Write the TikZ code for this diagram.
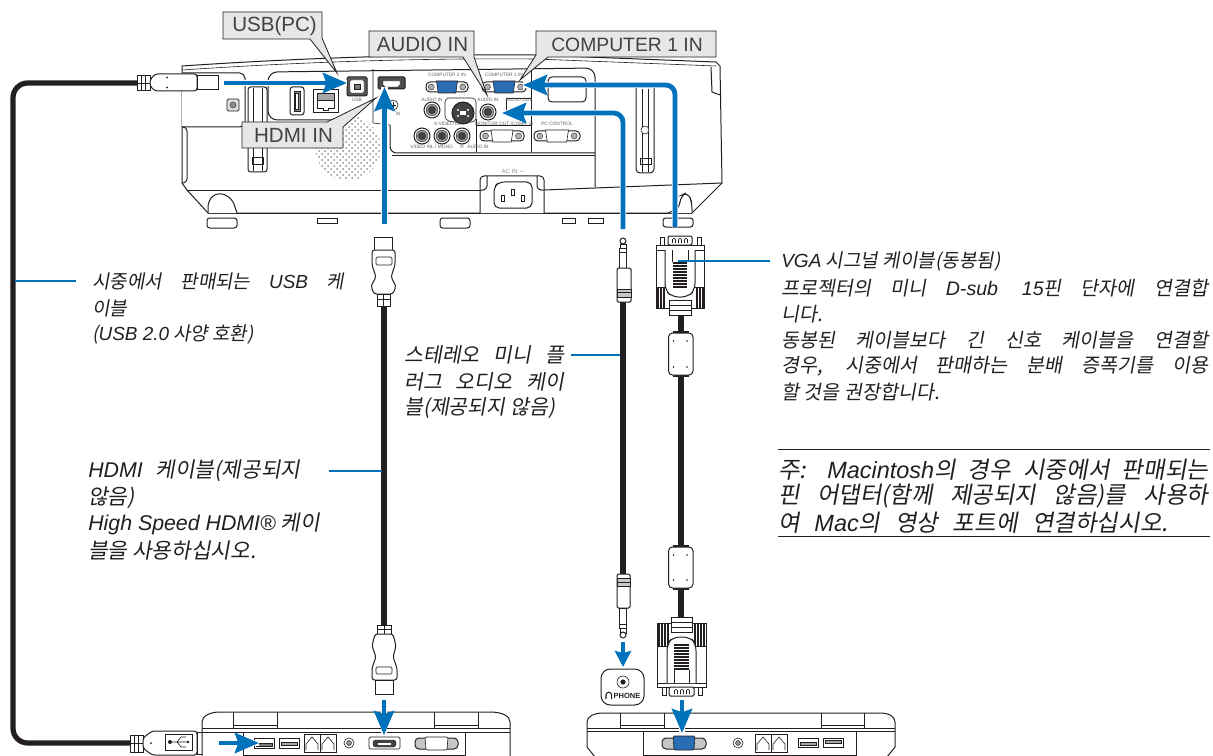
\documentclass[tikz,border=0pt]{standalone}
\usepackage{fontspec}
\usetikzlibrary{arrows.meta}
\setmainfont{Liberation Sans}
\newfontfamily\krfont{Noto Sans CJK KR}[FakeSlant=0.18]
\newfontfamily\latfont{Liberation Sans}
\newfontfamily\symfont{DejaVu Sans}
\newdimen\pxu \pxu=0.75pt
\newcommand{\la}[1]{{\latfont\itshape #1}}
\newcommand{\jl}[2]{\makebox[#1\pxu][s]{#2}}
\definecolor{nblue}{HTML}{0072BC}
\definecolor{nblack}{HTML}{231F20}
\definecolor{lblgray}{HTML}{E6E7E8}
\definecolor{portblue}{HTML}{2A6DB5}
\tikzset{
 ln/.style={draw=nblack,line width=0.75pt},
 thin ln/.style={draw=nblack,line width=0.45pt},
 hair/.style={draw=nblack,line width=0.3pt},
 wfill/.style={fill=white},
 cable/.style={draw=nblack,line width=3.9pt},
 flow/.style={draw=nblue,line width=3.6pt,-{Stealth[length=18pt,width=15pt,inset=2.5pt]},rounded corners=7pt,preaction={draw=white,line width=4.8pt,-}},
 small flow/.style={flow,-{Stealth[length=12pt,width=12pt,inset=1.5pt]}},
 pointer/.style={draw=nblue,line width=1.6pt},
 body text/.style={anchor=west,inner sep=0pt,font=\krfont\fontsize{14.7pt}{14pt}\selectfont,text=nblack},
 usb text/.style={body text,font=\krfont\fontsize{14.2pt}{14pt}\selectfont},
 audio text/.style={body text,font=\krfont\fontsize{15.4pt}{14pt}\selectfont},
 hdmi text/.style={body text,font=\krfont\fontsize{16pt}{14pt}\selectfont},
 vga head/.style={body text,font=\krfont\fontsize{14.3pt}{14pt}\selectfont},
 note text/.style={anchor=west,inner sep=0pt,font=\krfont\fontsize{17.6pt}{15pt}\selectfont,text=nblack},
 label text/.style={inner sep=0pt,font=\latfont\fontsize{15.4pt}{15pt}\selectfont,text=nblack!85},
 callout/.style={draw=nblack,line width=0.6pt,fill=lblgray},
 tiny/.style={inner sep=0pt,font=\latfont\fontsize{3.6pt}{4pt}\selectfont,text=nblack!70},
}
% round socket
\newcommand{\rport}[3]{\filldraw[ln,fill=white] (#1,#2) circle (#3);
 \filldraw[hair,fill=nblack!45] (#1,#2) circle (#3*0.72);
 \filldraw[hair,fill=nblack!85] (#1,#2) circle (#3*0.45);}
% D-sub socket, centre x, centre y, half width, fill
\newcommand{\dsub}[4]{
 \filldraw[ln,fill=white,rounded corners=3pt] (#1-#3,#2-5) -- (#1+#3,#2-5) -- (#1+#3,#2+5) -- (#1-#3,#2+5) -- cycle;
 \filldraw[thin ln,fill=#4] (#1-#3*0.5,#2-6) -- (#1+#3*0.5,#2-6) -- (#1+#3*0.42,#2+6) -- (#1-#3*0.42,#2+6) -- cycle;
 \filldraw[hair,fill=nblack!35] (#1-#3*0.75,#2) circle (3);
 \filldraw[hair,fill=nblack!35] (#1+#3*0.75,#2) circle (3);}
\begin{document}
\begin{tikzpicture}[x=0.75pt,y=-0.75pt]
\useasboundingbox (0,0) rectangle (1213,756);
\fill[white] (0,0) rectangle (1213,756);

% ---------- projector ----------
\draw[ln,wfill] (182,66) .. controls (300,58) and (420,54) .. (535,55) -- (716,62) -- (720,66) -- (722,183) -- (692,213) -- (208,213) -- (187,190) -- (182,183) -- cycle;
\draw[thin ln] (182,70) .. controls (300,62) and (420,58) .. (535,59) -- (716,66);
\draw[ln] (711,67) -- (712,92) -- (720,95);
\draw[ln,wfill,rounded corners=4pt] (182,73) -- (245,73) -- (245,127) -- (182,127);
\filldraw[thin ln,fill=nblack!15,rounded corners=1pt] (227,99) rectangle (239,111);
\filldraw[hair,fill=nblack!50] (233,105) circle (3);
\draw[ln,rounded corners=3pt] (182,127) -- (187,127) -- (187,183) -- (182,183);
\draw[ln,rounded corners=2pt] (248,87) rectangle (267,172);
\draw[thin ln] (253,88) -- (253,171) (262,88) -- (262,171);
\draw[thin ln] (252,157) rectangle (263,164);
% speaker
\begin{scope}
 \clip (348,148) circle (32.5);
 \foreach \i in {0,...,11}{\foreach \j in {0,...,11}{
  \fill[nblack!50] ({316+\i*6},{118+\j*6}) circle (1);
  \fill[nblack!50] ({319+\i*6},{121+\j*6}) circle (1);}}
\end{scope}
% panel
\draw[ln,rounded corners=7pt] (333,120) -- (268,120) -- (268,72) -- (595,68) -- (595,187);
\draw[thin ln] (373,69) -- (373,123) -- (390,125);
\draw[ln,rounded corners=5pt] (390,125) -- (390,153) -- (595,153);
\draw[ln] (392,156) -- (595,156);
\draw[thin ln] (531,70) -- (531,152);
\draw[thin ln] (476,119) -- (476,152);
\draw[thin ln] (476,125) -- (531,125);
\draw[thin ln,rounded corners=3pt] (445,98) -- (445,120) -- (452,122) -- (476,122) -- (476,98) -- cycle;
\draw[thin ln,rounded corners=2pt] (506,98) -- (531,98);
\draw[thin ln] (506,98) -- (506,112);
\draw[ln,rounded corners=3pt] (548,77) rectangle (586,102);
% lower lines
\draw[ln] (187,190) -- (480,190);
\draw[ln] (544,190) -- (722,183);
\draw[ln] (208,213) -- (692,213);
\draw[ln,wfill,rounded corners=3pt] (480,213) -- (480,176) -- (544,176) -- (544,213);
\draw[ln,rounded corners=3pt] (487,176) -- (487,190) -- (480,190) (537,176) -- (537,190) -- (544,190);
\draw[ln,rounded corners=4pt] (494,187) -- (499,182) -- (532,182) -- (532,208) -- (494,208) -- cycle;
\filldraw[thin ln,fill=white] (501,195) rectangle (504,201);
\filldraw[thin ln,fill=white] (511,189) rectangle (514,195);
\filldraw[thin ln,fill=white] (521,195) rectangle (524,201);
\node[tiny,font=\latfont\fontsize{4.5pt}{5pt}\selectfont,text=nblack!50] (acin) at (513,171) {AC IN {\symfont ∼}};
% right slot and foot
\draw[ln,rounded corners=3pt] (636,88) -- (636,173) -- (654,173) -- (654,88);
\draw[thin ln] (642,89) -- (642,172) (648,89) -- (648,172);
\filldraw[thin ln,fill=white] (645,130) circle (4);
\draw[thin ln] (640,158) rectangle (651,164);
% feet
\draw[ln,wfill,rounded corners=5pt] (208,213) -- (208,200) -- (218,192) -- (232,198) -- (237,213);
\draw[ln,wfill,rounded corners=5pt] (668,213) -- (680,208) -- (680,196) -- (688,192) -- (692,203) -- (692,213);
\filldraw[ln,fill=white,rounded corners=2pt] (207,218) rectangle (237,228);
\filldraw[ln,fill=white,rounded corners=2pt] (440,218) rectangle (470,228);
\filldraw[ln,fill=white,rounded corners=2pt] (663,218) rectangle (693,227);
\draw[ln] (317,218) rectangle (337,223) (562,218) rectangle (575,223) (588,218) rectangle (603,223);
% ports
\draw[ln,rounded corners=2pt] (290,87) rectangle (304,115);
\filldraw[thin ln,fill=nblack!50] (294,91) rectangle (300,111);
\filldraw[thin ln,fill=white] (295.5,93) rectangle (298.5,109);
\filldraw[ln,fill=white] (313,90) rectangle (338,113);
\filldraw[thin ln,fill=nblack!40] (317,93) rectangle (334,100);
\draw[thin ln] (317,100) -- (317,108) -- (323,108) -- (323,110) -- (328,110) -- (328,108) -- (334,108) -- (334,100);
\filldraw[ln,fill=nblack!75,rounded corners=1pt] (347,77) rectangle (367,96);
\filldraw[hair,fill=white,rounded corners=1pt] (350,80) rectangle (364,93);
\filldraw[hair,fill=nblack!60] (354,84) rectangle (360,89);
\filldraw[ln,fill=nblack!80,rounded corners=1pt] (378,77) rectangle (405,89);
\filldraw[hair,fill=white] (383,81) -- (400,81) -- (400,85) -- (398,87) -- (385,87) -- (383,85) -- cycle;
\filldraw[thin ln,fill=white] (393,105) circle (5);
\draw[thin ln] (390,105) -- (396,105) (393,102) -- (393,108);
\dsub{447}{87}{21}{portblue}
\dsub{504}{87}{22}{portblue}
\dsub{502}{136}{22}{white}
\dsub{557}{136}{23}{white}
\rport{432}{110}{8}
\rport{488}{112}{8}
\filldraw[ln,fill=nblack!85] (463,113) circle (11);
\fill[white] (460,111) rectangle (466,115);
\foreach \a/\b in {458/110,468/110,458/116,468/116}{\fill[white] (\a,\b) circle (1.2);}
\rport{422}{136}{8}
\rport{442}{136}{8}
\rport{462}{136}{8}
\node[tiny] (t1) at (447,75) {COMPUTER 2 IN};
\node[tiny] (t2) at (432,100) {AUDIO IN};
\node[tiny] (t3) at (447,124) {S-VIDEO IN};
\node[tiny] (t4) at (421,147) {VIDEO IN};
\node[tiny] (t5) at (442,147) {L / MONO};
\node[tiny] (t6) at (462,147) {R};
\node[tiny] (t7) at (478,147) {AUDIO IN};
\node[tiny] (t8) at (504,75) {COMPUTER 1 IN};
\node[tiny] (t9) at (488,100) {AUDIO IN};
\node[tiny] (t10) at (519,100) {AUDIO OUT};
\node[tiny] (t11) at (504,124) {MONITOR OUT (COMP. 1)};
\node[tiny] (t12) at (557,124) {PC CONTROL};
\node[tiny] (t13) at (357,100) {USB};
\node[tiny] (t14) at (398,114) {IN};

% ---------- callouts ----------
\filldraw[callout] (223,12) -- (322,12) -- (322,38) -- (337,73) -- (310,39) -- (223,39) -- cycle;
\filldraw[callout] (369,31) -- (474,31) -- (474,57) -- (487,95) -- (463,57) -- (369,57) -- cycle;
\filldraw[callout] (536,31) -- (716,31) -- (716,57) -- (548,57) -- (520,80) -- (536,55) -- cycle;
\filldraw[callout] (242,122) -- (327,122) -- (376,98) -- (343,127) -- (343,148) -- (242,148) -- cycle;
\node[label text] (lusb) at (274.5,26) {USB(PC)};
\node[label text] (laud) at (422.5,44.5) {AUDIO IN};
\node[label text,font=\latfont\fontsize{14.5pt}{15pt}\selectfont] (lcom) at (627,44.5) {COMPUTER 1 IN};
\node[label text] (lhdm) at (293.5,135.5) {HDMI IN};

% ---------- cables ----------
\coordinate (uA) at (138,83); \coordinate (uB) at (130,743);
\draw[cable,rounded corners=11pt] (uA) -- (13,83) -- (13,743) -- (uB);
\coordinate (hA) at (384,304); \coordinate (hB) at (384,627);
\draw[cable] (hA) -- (hB);
\coordinate (aA) at (623,300); \coordinate (aB) at (623,575);
\draw[cable] (aA) -- (aB);
\coordinate (vA) at (681,312); \coordinate (vB) at (681,620);
\draw[cable] (vA) -- (vB);

% ---------- USB plugs ----------
\filldraw[ln,fill=white] (137,76) rectangle (150,91);
\draw[thin ln] (141,76) -- (141,91) (145,76) -- (145,91) (137,83.5) -- (150,83.5);
\filldraw[ln,fill=white,rounded corners=2pt] (150,80) -- (155,74) -- (197,74) -- (197,91) -- (155,91) -- (150,86) -- cycle;
\filldraw[ln,fill=white] (197,76) rectangle (218,90);
\fill[nblack] (167,77.5) circle (1) (167,87.5) circle (1);
\filldraw[ln,fill=white] (130,735) rectangle (143,752);
\draw[thin ln] (134,735) -- (134,752) (138,735) -- (138,752) (130,743.5) -- (143,743.5);
\filldraw[ln,fill=white,rounded corners=2pt] (143,738) -- (152,731) -- (197,731) -- (197,755) -- (152,755) -- (143,748) -- cycle;
\filldraw[thin ln,fill=white] (165,734) rectangle (192,750);
\draw[thin ln] (170,742) -- (188,742) (177,742) -- (181,737) -- (186,737) (177,742) -- (181,747) -- (186,747);
\fill[nblack] (170,742) circle (2) (188,742) circle (1.4);
\fill[nblack] (151,743) circle (1);
\filldraw[ln,fill=white] (197,732) rectangle (215,754);
\draw[thin ln] (203,735) rectangle (207,740) (203,745) rectangle (207,750);

% ---------- HDMI plugs ----------
\filldraw[ln,fill=white] (374,237) rectangle (392,250);
\filldraw[ln,fill=white,rounded corners=2pt] (372,250) -- (395,250) -- (395,265) -- (391,277) -- (396,286) -- (393,294) -- (374,294) -- (371,286) -- (376,277) -- (372,265) -- cycle;
\draw[thin ln,rounded corners=1pt] (376,257) rectangle (392,265);
\filldraw[ln,fill=white] (377,294) rectangle (390,306);
\draw[thin ln] (377,299) -- (390,299) (383.5,294) -- (383.5,306);
\filldraw[ln,fill=white] (377,625) rectangle (391,634);
\draw[thin ln] (377,629) -- (391,629) (384,625) -- (384,634);
\filldraw[ln,fill=white,rounded corners=2pt] (375,634) -- (393,634) -- (396,646) -- (393,657) -- (397,668) -- (397,680) -- (372,680) -- (372,668) -- (376,657) -- (372,646) -- cycle;
\draw[thin ln,rounded corners=1pt] (376,667) rectangle (392,674);
\filldraw[ln,fill=white] (375,680) rectangle (393,694);

% ---------- audio plugs ----------
\filldraw[ln,fill=white] (623,241) circle (3);
\filldraw[ln,fill=white] (620,244) -- (626,244) -- (626,248) -- (620,248) -- cycle;
\filldraw[ln,fill=white] (619.5,248) rectangle (626.5,268);
\draw[thin ln] (619.5,252) -- (626.5,252);
\filldraw[ln,fill=white,rounded corners=1pt] (617,268) rectangle (631,302);
\filldraw[thin ln,fill=nblack!25] (617,289) rectangle (631,297);
\draw[thin ln] (617,292) -- (631,292);
\filldraw[ln,fill=white,rounded corners=1pt] (617,574) rectangle (630,608);
\filldraw[thin ln,fill=nblack!25] (617,578) rectangle (630,586);
\draw[thin ln] (617,582) -- (630,582);
\filldraw[ln,fill=white] (619.5,608) rectangle (626.5,628);
\draw[thin ln] (619.5,624) -- (626.5,624);
\filldraw[ln,fill=white] (620,628) rectangle (626,633);
\filldraw[ln,fill=white] (623,635) circle (3);

% ---------- VGA plugs ----------
\filldraw[ln,fill=white,rounded corners=1pt] (668,236) rectangle (692,245);
\foreach \x in {674,680,686}{\draw[thin ln,rounded corners=0.7pt] (\x-1.5,243) -- (\x-1.5,238.5) -- (\x+1.5,238.5) -- (\x+1.5,243);}
\draw[ln,wfill] (660,237) rectangle (664,245) (697,237) rectangle (701,245);
\filldraw[ln,fill=white] (656,245) rectangle (704,308);
\draw[ln] (656,250) -- (704,250);
\foreach \x in {657,658.5,...,664.5,696,697.5,...,703.5}{\draw[hair,line width=0.5pt] (\x,287) -- (\x,308);}
\draw[thin ln] (656,287) -- (665,287) (695,287) -- (704,287);
\filldraw[ln,fill=white,rounded corners=5pt] (665,250) -- (665,290) -- (672,297) -- (688,297) -- (695,290) -- (695,250);
\draw[thin ln] (672,250) -- (672,262) (688,250) -- (688,262);
\foreach \y in {262,265,...,286}{\fill[nblack] (673,\y) rectangle (687,\y+1.6);}
\filldraw[ln,fill=white] (669,300) rectangle (691,315);
\draw[thin ln] (669,305) -- (691,305) (669,310) -- (691,310);
\foreach \c/\d in {333/375,547/588}{
 \fill[nblack] (673,\c-2) rectangle (689,\d+2);
 \filldraw[ln,fill=white,rounded corners=3pt] (668.5,\c) rectangle (693,\d);
 \fill[nblack] (673.5,\c+8) circle (0.9) (687,\c+8) circle (0.9) (673.5,\d-8) circle (0.9) (687,\d-8) circle (0.9);}
\filldraw[ln,fill=white] (657,623) rectangle (706,687);
\draw[ln] (657,683) -- (706,683);
\foreach \x in {658,659.5,...,669,694,695.5,...,705}{\draw[hair,line width=0.5pt] (\x,623) -- (\x,646);}
\draw[thin ln] (657,646) -- (667,646) (696,646) -- (706,646);
\filldraw[ln,fill=white,rounded corners=5pt] (667,683) -- (667,644) -- (673,637) -- (690,637) -- (696,644) -- (696,683);
\foreach \y in {644,647,...,668}{\fill[nblack] (674,\y) rectangle (689,\y+1.6);}
\draw[thin ln] (674,670) -- (674,683) (689,670) -- (689,683);
\filldraw[ln,fill=white] (671,617) rectangle (692,632);
\draw[thin ln] (671,622) -- (692,622) (671,627) -- (692,627);
\filldraw[ln,fill=white,rounded corners=1pt] (669,687) rectangle (694,696);
\foreach \x in {676,682,688}{\draw[thin ln,rounded corners=0.7pt] (\x-1.5,694) -- (\x-1.5,689.5) -- (\x+1.5,689.5) -- (\x+1.5,694);}
\draw[ln,wfill] (662,687) rectangle (666,695) (698,687) rectangle (702,695);

% ---------- PHONE ----------
\filldraw[ln,fill=white,rounded corners=7pt] (601,669) rectangle (644,705);
\draw[thin ln] (623,682) circle (6);
\fill[nblack] (623,682) circle (2.6);
\node[inner sep=0pt,font=\latfont\bfseries\fontsize{5.6pt}{6pt}\selectfont,text=nblack] (phone) at (627,695.5) {PHONE};
\draw[thin ln,line width=0.8pt] (606,699) -- (606,695) arc (180:360:2.8) -- (611.6,699);

% ---------- laptops ----------
\draw[ln,wfill] (595,757) -- (587,747) -- (587,722) .. controls (587,716) and (595,713) .. (603,713) -- (880,713) .. controls (888,713) and (895,716) .. (895,722) -- (895,747) -- (887,757);
\draw[ln] (620,713) -- (620,728) (664,713) -- (664,728) (821,713) -- (821,728) (864,713) -- (864,728);
\draw[thin ln] (620,725) -- (664,725) (821,725) -- (864,725);
\draw[ln] (587,728) -- (895,728) (587,731) -- (895,731);
\draw[ln] (643,731) -- (643,755) -- (856,755) -- (856,731);
\draw[ln,wfill] (202,757) -- (202,722) .. controls (202,716) and (210,712) .. (220,712) -- (490,712) .. controls (502,712) and (510,716) .. (510,722) -- (510,757);
\draw[ln] (233,712) -- (233,728) (277,712) -- (277,728) (434,712) -- (434,728) (478,712) -- (478,728);
\draw[thin ln] (233,725) -- (277,725) (434,725) -- (478,725);
\draw[ln] (202,728) -- (510,728) (202,732) -- (510,732);
\draw[ln] (243,732) -- (243,755) -- (465,755) -- (465,732);
% right laptop ports
\filldraw[ln,fill=nblack!25,rounded corners=3pt] (662,738) rectangle (706,749);
\filldraw[thin ln,fill=portblue,rounded corners=1pt] (673,736) -- (695,736) -- (694,750) -- (674,750) -- cycle;
\draw[thin ln] (738,743) circle (5);
\filldraw[thin ln,fill=nblack!45] (738,743) circle (2.4);
\draw[ln] (755,734) rectangle (787,752) (771,734) -- (771,752);
\draw[thin ln] (757,750) -- (757,744) -- (763,737) -- (769,744) -- (769,750) (773,750) -- (773,744) -- (779,737) -- (785,744) -- (785,750);
\filldraw[ln,fill=white] (798,738) rectangle (818,747);
\filldraw[hair,fill=nblack!40] (800,742) rectangle (816,745);
\filldraw[ln,fill=white] (823,738) rectangle (843,747);
\filldraw[hair,fill=nblack!40] (825,740) rectangle (841,743);
% left laptop ports
\filldraw[ln,fill=white] (254,738) rectangle (274,748);
\filldraw[hair,fill=nblack!60] (256,743) rectangle (272,746);
\filldraw[ln,fill=white] (279,738) rectangle (299,748);
\filldraw[hair,fill=nblack!40] (281,742) rectangle (297,745);
\draw[ln] (304,734) rectangle (336,752) (320,734) -- (320,752);
\draw[thin ln] (306,750) -- (306,744) -- (312,737) -- (318,744) -- (318,750) (322,750) -- (322,744) -- (328,737) -- (334,744) -- (334,750);
\draw[thin ln] (349,743) circle (5);
\filldraw[thin ln,fill=nblack!45] (349,743) circle (2.4);
\filldraw[thin ln,fill=white,rounded corners=1pt] (369,737) rectangle (400,749);
\filldraw[hair,fill=nblack!85,rounded corners=2pt] (373,740) rectangle (396,747);
\fill[white] (378,742.5) rectangle (391,744.5);
\filldraw[ln,fill=nblack!25,rounded corners=3pt] (415,738) rectangle (458,749);
\filldraw[thin ln,fill=white,rounded corners=1pt] (425,737) -- (448,737) -- (447,750) -- (426,750) -- cycle;

% ---------- blue arrows ----------
\coordinate (f1a) at (224,83); \coordinate (f1b) at (347,83);
\coordinate (f2a) at (384.5,224); \coordinate (f2b) at (384.5,87);
\coordinate (f3a) at (675,227); \coordinate (f3c) at (675,85); \coordinate (f3b) at (523,85);
\coordinate (f4a) at (623,229); \coordinate (f4c) at (623,113); \coordinate (f4b) at (502,113);
\coordinate (f5a) at (623,642); \coordinate (f5b) at (623,667);
\coordinate (f6a) at (682,700); \coordinate (f6b) at (682,733);
\coordinate (f7a) at (384,700); \coordinate (f7b) at (384,735);
\coordinate (f8a) at (219,743); \coordinate (f8b) at (259,743);
\draw[flow] (f1a) -- (f1b);
\draw[flow] (f2a) -- (f2b);
\draw[flow] (f3a) -- (f3c) -- (f3b);
\draw[flow] (f4a) -- (f4c) -- (f4b);
\draw[small flow] (f5a) -- (f5b);
\draw[flow] (f6a) -- (f6b);
\draw[flow] (f7a) -- (f7b);
\draw[flow] (f8a) -- (f8b);

% ---------- pointers ----------
\coordinate (p1a) at (15,281); \coordinate (p1b) at (76,281);
\coordinate (p2a) at (329,471); \coordinate (p2b) at (382,471);
\coordinate (p3a) at (571,355); \coordinate (p3b) at (620,355);
\coordinate (p4a) at (678,261); \coordinate (p4b) at (770,261);
\draw[pointer] (p1a) -- (p1b);
\draw[pointer] (p2a) -- (p2b);
\draw[pointer] (p3a) -- (p3b);
\draw[pointer] (p4a) -- (p4b);

% ---------- texts ----------
\node[usb text] (a1) at (92,281) {\jl{252}{시중에서 판매되는 \la{USB} 케}};
\node[usb text] (a2) at (92,308) {이블};
\node[usb text] (a3) at (92,334) {(\la{USB 2.0} 사양 호환)};
\node[audio text] (b1) at (404,355) {\jl{160}{스테레오 미니 플}};
\node[audio text] (b2) at (404,382) {\jl{160}{러그 오디오 케이}};
\node[audio text] (b3) at (404,408) {블(제공되지 않음)};
\node[hdmi text] (c1) at (88,471) {\jl{212}{\la{HDMI} 케이블(제공되지}};
\node[hdmi text] (c2) at (88,498) {않음)};
\node[hdmi text] (c3) at (88,524) {\la{High Speed HDMI®} 케이};
\node[hdmi text] (c4) at (88,551) {블을 사용하십시오.};
\node[vga head] (d1) at (781,261) {\la{VGA} 시그널 케이블(동봉됨)};
\node[body text] (d2) at (781,288) {\jl{427}{프로젝터의 미니 \la{D-sub 15}핀 단자에 연결합}};
\node[body text] (d3) at (781,314) {니다.};
\node[body text] (d4) at (781,340) {\jl{427}{동봉된 케이블보다 긴 신호 케이블을 연결할}};
\node[body text] (d5) at (781,366) {\jl{427}{경우, 시중에서 판매하는 분배 증폭기를 이용}};
\node[body text] (d6) at (781,392) {할 것을 권장합니다.};
\coordinate (n1a) at (778,449); \coordinate (n1b) at (1210,449);
\coordinate (n2a) at (778,536); \coordinate (n2b) at (1210,536);
\draw[thin ln] (n1a) -- (n1b);
\draw[thin ln] (n2a) -- (n2b);
\node[note text] (e1) at (778,470) {\jl{430}{주: \la{Macintosh}의 경우 시중에서 판매되는}};
\node[note text] (e2) at (778,496) {\jl{430}{핀 어댑터(함께 제공되지 않음)를 사용하}};
\node[note text] (e3) at (778,523) {\jl{390}{여 \la{Mac}의 영상 포트에 연결하십시오.}};
\end{tikzpicture}
\end{document}
